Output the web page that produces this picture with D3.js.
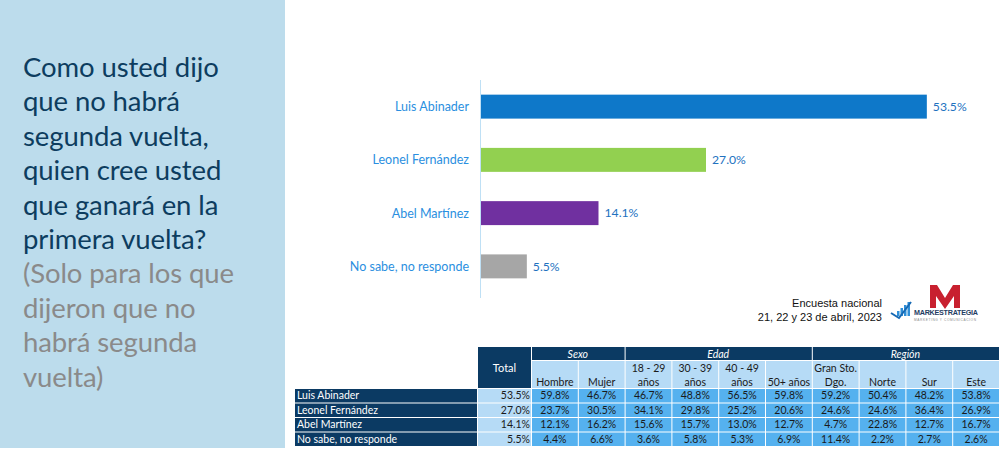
<!DOCTYPE html>
<html>
<head>
<meta charset="utf-8">
<script src="https://cdn.jsdelivr.net/npm/d3@7"></script>
<style>
  body { margin: 0; background: #fff; }
  svg { display: block; }
</style>
</head>
<body>
<script>
// chart data
var candidates = ["Luis Abinader", "Leonel Fernández", "Abel Martínez", "No sabe, no responde"];
var totals = [53.5, 27.0, 14.1, 5.5];
var barColors = ["#0e78c9", "#92d050", "#7030a0", "#a6a6a6"];

// table data
var groups = ["Sexo", "Edad", "Región"];
var groupSizes = [2, 4, 4];
var colLabels = [["Hombre"], ["Mujer"], ["18 - 29", "años"], ["30 - 39", "años"], ["40 - 49", "años"],
                 ["50+ años"], ["Gran Sto.", "Dgo."], ["Norte"], ["Sur"], ["Este"]];
var rowLuis   = [59.8, 46.7, 46.7, 48.8, 56.5, 59.8, 59.2, 50.4, 48.2, 53.8];
var rowLeonel = [23.7, 30.5, 34.1, 29.8, 25.2, 20.6, 24.6, 24.6, 36.4, 26.9];
var rowAbel   = [12.1, 16.2, 15.6, 15.7, 13.0, 12.7, 4.7, 22.8, 12.7, 16.7];
var rowNoSabe = [4.4, 6.6, 3.6, 5.8, 5.3, 6.9, 11.4, 2.2, 2.7, 2.6];
var tableRows = [rowLuis, rowLeonel, rowAbel, rowNoSabe];

var titleLines = ["Como usted dijo", "que no habrá", "segunda vuelta,", "quien cree usted", "que ganará en la", "primera vuelta?"];
var noteLines = ["(Solo para los que", "dijeron que no", "habrá segunda", "vuelta)"];
var sourceLines = ["Encuesta nacional", "21, 22 y 23 de abril, 2023"];

var W = 1001, H = 465;
var calibri = "Lato, 'Noto Sans', sans-serif";
var navy = "#0b3a63";
var fmt = d3.format(".1f");

var svg = d3.select("body").append("svg")
    .attr("width", W)
    .attr("height", H);

// left panel
svg.append("rect")
    .attr("x", 0).attr("y", 0)
    .attr("width", 285).attr("height", 448)
    .attr("fill", "#bcdcec");

var allLines = titleLines.concat(noteLines);
svg.append("g").selectAll("text")
    .data(allLines)
    .join("text")
    .attr("x", 23)
    .attr("y", function(d, i) { return 77 + i * 34.4; })
    .attr("font-family", calibri)
    .attr("font-size", 27.5)
    .attr("letter-spacing", -0.1)
    .attr("fill", function(d, i) { return i < titleLines.length ? "#0d3d5f" : "#8a8a8a"; })
    .text(function(d) { return d; });

// bar chart
var x = d3.scaleLinear().domain([0, 60]).range([481, 981]);
var y = d3.scaleBand().domain(candidates).range([80, 293]).paddingInner(0.55).paddingOuter(0.275);

svg.append("line")
    .attr("x1", 480.5).attr("x2", 480.5)
    .attr("y1", 80).attr("y2", 298)
    .attr("stroke", "#bfe0f5");

svg.append("g").selectAll("rect")
    .data(candidates)
    .join("rect")
    .attr("x", x(0))
    .attr("y", function(d) { return y(d); })
    .attr("width", function(d, i) { return x(totals[i]) - x(0); })
    .attr("height", y.bandwidth())
    .attr("fill", function(d, i) { return barColors[i]; });

svg.append("g").selectAll("text")
    .data(candidates)
    .join("text")
    .attr("x", 469)
    .attr("y", function(d) { return y(d) + y.bandwidth() / 2; })
    .attr("dy", "0.35em")
    .attr("text-anchor", "end")
    .attr("font-family", calibri)
    .attr("font-size", 12.5)
    .attr("fill", "#2b8fe0")
    .text(function(d) { return d; });

svg.append("g").selectAll("text")
    .data(candidates)
    .join("text")
    .attr("x", function(d, i) { return x(totals[i]) + 6; })
    .attr("y", function(d) { return y(d) + y.bandwidth() / 2; })
    .attr("dy", "0.35em")
    .attr("font-family", calibri)
    .attr("font-size", 12.2)
    .attr("fill", "#2272bf")
    .text(function(d, i) { return fmt(totals[i]) + "%"; });

// source note
svg.append("g").selectAll("text")
    .data(sourceLines)
    .join("text")
    .attr("x", 882)
    .attr("y", function(d, i) { return 307 + i * 14; })
    .attr("text-anchor", "end")
    .attr("font-family", "'Liberation Sans', Arial, sans-serif")
    .attr("font-size", 11)
    .attr("fill", "#111")
    .text(function(d) { return d; });

// logo
var logo = svg.append("g");
logo.append("path")
    .attr("d", "M930,285 L937,285 L945,298 L953,285 L960,285 L960,308 L954,308 L954,296 L945,309 L936,296 L936,308 L930,308 Z")
    .attr("fill", "#c8202f");
logo.selectAll("rect.bar")
    .data([5, 8, 11, 14])
    .join("rect")
    .attr("class", "bar")
    .attr("x", function(d, i) { return 897 + i * 3.5; })
    .attr("y", function(d) { return 316 - d; })
    .attr("width", 2.5)
    .attr("height", function(d) { return d; })
    .attr("fill", "#2f8fd8");
logo.append("path")
    .attr("d", "M891,313 L899,318 L911,302")
    .attr("fill", "none")
    .attr("stroke", "#1769b3")
    .attr("stroke-width", 2);
logo.append("text")
    .attr("x", 914).attr("y", 315)
    .attr("font-family", "'Liberation Sans', Arial, sans-serif")
    .attr("font-weight", "bold")
    .attr("font-size", 7.2)
    .attr("textLength", 64)
    .attr("fill", "#1f3d63")
    .text("MARKESTRATEGIA");
logo.append("text")
    .attr("x", 914).attr("y", 321)
    .attr("font-family", "'Liberation Sans', Arial, sans-serif")
    .attr("font-size", 3.2)
    .attr("textLength", 62)
    .attr("fill", "#8a8a8a")
    .text("MARKETING Y COMUNICACION");

// table
var tbl = svg.append("g");
var colX = d3.scaleBand().domain(d3.range(colLabels.length)).range([531, 999]);
var rowY = d3.scaleBand().domain(d3.range(tableRows.length)).range([389, 447]);
var labelX0 = 295, totalX0 = 478, totalX1 = 531;
var headTop = 347, headMid = 361, headBot = 389;

// group header
var start = 0;
groups.forEach(function(g, gi) {
    var x0 = colX(start), x1 = colX(start + groupSizes[gi] - 1) + colX.bandwidth();
    tbl.append("rect")
        .attr("x", x0 + 1).attr("y", headTop)
        .attr("width", x1 - x0 - 1).attr("height", headMid - headTop - 1)
        .attr("fill", navy);
    tbl.append("text")
        .attr("x", (x0 + x1) / 2).attr("y", headTop + 10.5)
        .attr("text-anchor", "middle")
        .attr("font-family", calibri)
        .attr("font-style", "italic")
        .attr("font-size", 10.5)
        .attr("fill", "#fff")
        .text(g);
    start += groupSizes[gi];
});

// total header
tbl.append("rect")
    .attr("x", totalX0).attr("y", headTop)
    .attr("width", totalX1 - totalX0).attr("height", headBot - headTop - 1)
    .attr("fill", navy);
tbl.append("text")
    .attr("x", (totalX0 + totalX1) / 2).attr("y", 372)
    .attr("text-anchor", "middle")
    .attr("font-family", calibri)
    .attr("font-size", 11)
    .attr("fill", "#fff")
    .text("Total");

// column sub-headers
colLabels.forEach(function(lab, ci) {
    tbl.append("rect")
        .attr("x", colX(ci) + 1).attr("y", headMid)
        .attr("width", colX.bandwidth() - 1).attr("height", headBot - headMid - 1)
        .attr("fill", "#b6dbf6");
    lab.forEach(function(line, li) {
        tbl.append("text")
            .attr("x", colX(ci) + colX.bandwidth() / 2 + 0.5)
            .attr("y", (lab.length === 1 ? 386 : 372 + li * 14))
            .attr("text-anchor", "middle")
            .attr("font-family", calibri)
            .attr("font-size", 10.5)
            .attr("fill", "#1a1a1a")
            .text(line);
    });
});

// data rows
tableRows.forEach(function(vals, ri) {
    var ry = rowY(ri), rh = rowY.bandwidth() - 1;
    tbl.append("rect")
        .attr("x", labelX0).attr("y", ry)
        .attr("width", totalX0 - labelX0 - 1).attr("height", rh)
        .attr("fill", navy);
    tbl.append("text")
        .attr("x", labelX0 + 2).attr("y", ry + rh / 2)
        .attr("dy", "0.35em")
        .attr("font-family", calibri)
        .attr("font-size", 10.5)
        .attr("fill", "#fff")
        .text(candidates[ri]);
    tbl.append("rect")
        .attr("x", totalX0).attr("y", ry)
        .attr("width", totalX1 - totalX0).attr("height", rh)
        .attr("fill", "#b6dbf6");
    tbl.append("text")
        .attr("x", totalX1 - 1).attr("y", ry + rh / 2)
        .attr("dy", "0.35em")
        .attr("text-anchor", "end")
        .attr("font-family", calibri)
        .attr("font-size", 10.5)
        .attr("fill", "#1a1a1a")
        .text(fmt(totals[ri]) + "%");
    vals.forEach(function(v, ci) {
        tbl.append("rect")
            .attr("x", colX(ci) + 1).attr("y", ry)
            .attr("width", colX.bandwidth() - 1).attr("height", rh)
            .attr("fill", "#55b1ef");
        tbl.append("text")
            .attr("x", colX(ci) + colX.bandwidth() / 2 + 0.5).attr("y", ry + rh / 2)
            .attr("dy", "0.35em")
            .attr("text-anchor", "middle")
            .attr("font-family", calibri)
            .attr("font-size", 10.5)
            .attr("fill", "#1a1a1a")
            .text(fmt(v) + "%");
    });
});
</script>
</body>
</html>
